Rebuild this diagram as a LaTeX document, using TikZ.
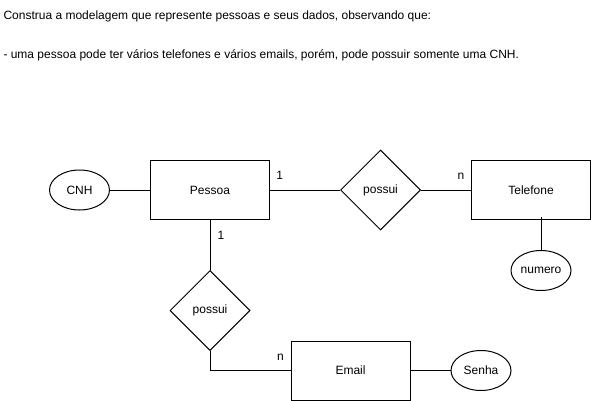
\documentclass[tikz,border=0pt]{standalone}
\usepackage{fontspec}
\setmainfont{Liberation Sans}
\usepackage{tikz}
\usetikzlibrary{positioning,shapes.geometric}

\begin{document}
\begin{tikzpicture}[x=1pt,y=-1pt,
    font=\fontsize{12}{14}\selectfont,
    line width=1pt,
    ent/.style={draw,inner sep=0pt,minimum width=119pt,minimum height=59pt},
    rel/.style={draw,diamond,inner sep=0pt,minimum width=80pt,minimum height=80pt},
    att/.style={draw,ellipse,inner sep=0pt,minimum width=60pt,minimum height=40pt},
    card/.style={inner sep=0pt},
    txt/.style={anchor=west,inner sep=0pt}]
  \fill[white] (0,0) rectangle (591,401);
  \useasboundingbox (0,0) rectangle (591,401);
  \node[txt] (t1) at (3,16) {Construa a modelagem que represente pessoas e seus dados, observando que:};
  \node[txt] (t2) at (3,55) {- uma pessoa pode ter vários telefones e vários emails, porém, pode possuir somente uma CNH.};
  \node[ent] (pe) at (210,190) {Pessoa};
  \node[att,left=40pt of pe] (cnh) {CNH};
  \node[rel,right=70pt of pe] (ps1) {possui};
  \node[ent,right=50pt of ps1] (tel) {Telefone};
  \node[att,below=30pt of tel,xshift=10pt] (num) {numero};
  \node[rel,below=50pt of pe] (ps2) {possui};
  \node[ent,below right=30pt and 40pt of ps2.east] (em) {Email};
  \node[att,right=40pt of em] (sen) {Senha};
  \coordinate (k) at (ps2.south |- em.west);
  \draw (cnh) -- (pe);
  \draw (pe) -- node[card,pos=0.14,above=10pt]{1} (ps1);
  \draw (ps1) -- node[card,pos=0.8,above=10pt]{n} (tel);
  \draw (num.north) -- ([yshift=3pt]num.north |- tel.south);
  \draw (pe) -- node[card,pos=0.3,right=7pt]{1} (ps2);
  \draw (ps2) -- (k) -- node[card,pos=0.875,above=10pt]{n} (em);
  \draw (em) -- (sen);
\end{tikzpicture}
\end{document}
